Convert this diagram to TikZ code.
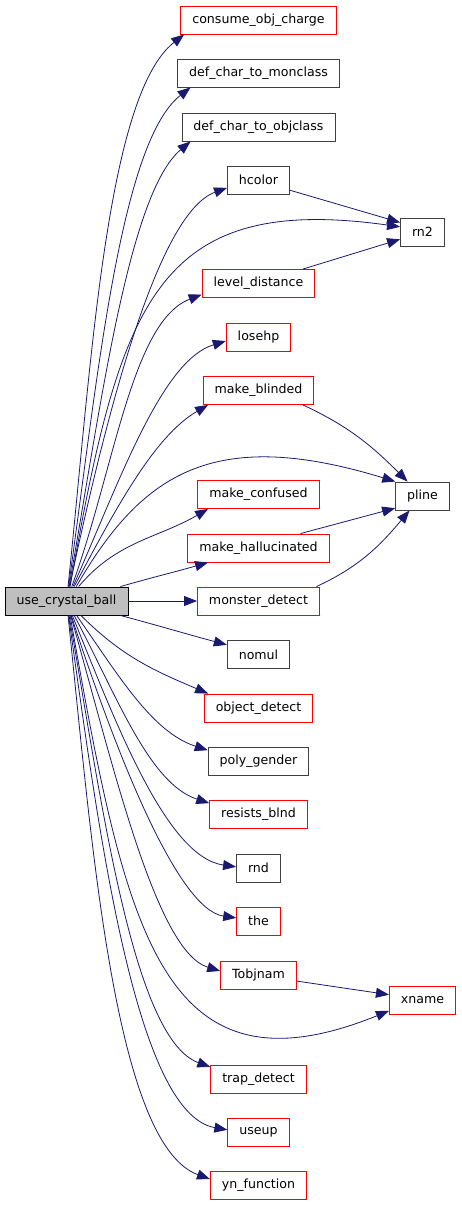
\documentclass[tikz,border=0pt]{standalone}
\usepackage{fontspec}
\setmainfont{DejaVu Sans}
\usepackage{xcolor}
\usepackage{tikz}
\usetikzlibrary{arrows.meta}

\definecolor{edgeblue}{RGB}{25,25,112}
\definecolor{boxred}{RGB}{255,0,0}
\definecolor{boxgray}{RGB}{64,64,64}
\definecolor{rootfill}{RGB}{191,191,191}

\begin{document}
\begin{tikzpicture}[
    x=1pt, y=1pt,
    fn/.style={rectangle, draw=boxgray, fill=white, line width=0.9pt, minimum height=28pt, inner xsep=11.5pt, inner ysep=0pt, font=\fontsize{12.6pt}{15pt}\selectfont},
    fnred/.style={fn, draw=boxred},
    root/.style={fn, draw=black, fill=rootfill},
    call/.style={draw=edgeblue, line width=0.8pt, -{Triangle[length=13pt,width=10pt]}},
    bend late/.style={in looseness=0.45},
]
\useasboundingbox (0,0) rectangle (461,-1205);

\node[root] (ucb) at (66.5,-601) {use\_crystal\_ball};

\node[fnred] (cons) at (258.5,-20) {consume\_obj\_charge};
\node[fn] (monc) at (258.5,-73) {def\_char\_to\_monclass};
\node[fn] (objc) at (258.5,-127) {def\_char\_to\_objclass};
\node[fn] (hcol) at (258.5,-180) {hcolor};
\node[fn] (rn2) at (422.5,-232) {rn2};
\node[fnred] (lvl) at (258.5,-283.5) {level\_distance};
\node[fnred] (lose) at (258.5,-337) {losehp};
\node[fnred] (blind) at (258.5,-390.5) {make\_blinded};
\node[fn] (pline) at (422.5,-496) {pline};
\node[fnred] (conf) at (258.5,-494.5) {make\_confused};
\node[fnred] (hall) at (258.5,-548) {make\_hallucinated};
\node[fnred] (mdet) at (258.5,-601) {monster\_detect};
\node[fn] (nomul) at (258.5,-654.5) {nomul};
\node[fnred] (odet) at (258.5,-708) {object\_detect};
\node[fn] (poly) at (258.5,-761) {poly\_gender};
\node[fnred] (resb) at (258.5,-814.5) {resists\_blnd};
\node[fn] (rnd) at (258.5,-868) {rnd};
\node[fnred] (the) at (258.5,-921) {the};
\node[fnred] (tobj) at (258.5,-975) {Tobjnam};
\node[fnred] (xname) at (422.5,-1000) {xname};
\node[fnred] (trap) at (258.5,-1079) {trap\_detect};
\node[fnred] (useup) at (258.5,-1132) {useup};
\node[fnred] (ynf) at (258.5,-1185) {yn\_function};

% calls going up
\draw[call] (ucb.84) to[out=84,in=218,bend late] (cons.191);
\draw[call] (ucb.82) to[out=82,in=218,bend late] (monc.192);
\draw[call] (ucb.80) to[out=80,in=220,bend late] (objc.192);
\draw[call] (ucb.78) to[out=78,in=200,bend late] (hcol.194);
\draw[call] (ucb.76) to[out=80,in=172,out looseness=1.5,in looseness=1.3] (rn2.167);
\draw[call] (ucb.70) to[out=70,in=201,in looseness=0.6] (lvl.191);
\draw[call] (ucb.66) to[out=66,in=197,in looseness=0.6] (lose.187);
\draw[call] (ucb.62) to[out=62,in=210,in looseness=0.7] (blind.196);
\draw[call] (ucb.56) to[out=60,in=163,in looseness=1.45] (pline.152);
\draw[call] (ucb.50) to[out=50,in=210] (conf.196);
\draw[call] (ucb.15) to[out=16,in=196] (hall.196);
\draw[call] (ucb) -- (mdet);

% calls going down
\draw[call] (ucb.-15) to[out=-15,in=165] (nomul.163);
\draw[call] (ucb.-45) to[out=-45,in=157] (odet.164);
\draw[call] (ucb.-55) to[out=-55,in=162,in looseness=0.8] (poly.168);
\draw[call] (ucb.-62) to[out=-62,in=162,in looseness=0.7] (resb.167);
\draw[call] (ucb.-68) to[out=-68,in=172,in looseness=0.6] (rnd.177);
\draw[call] (ucb.-72) to[out=-72,in=172,bend late] (the.172);
\draw[call] (ucb.-74) to[out=-74,in=163,bend late] (tobj.174);
\draw[call] (ucb.-76) to[out=-80,in=202,out looseness=1.6,in looseness=1.25] (xname.198);
\draw[call] (ucb.-80) to[out=-80,in=160,bend late] (trap.166);
\draw[call] (ucb.-82) to[out=-82,in=170,bend late] (useup.176);
\draw[call] (ucb.-84) to[out=-84,in=160,bend late] (ynf.173);

% second level
\draw[call] (hcol.-18) -- (rn2.157);
\draw[call] (lvl.18) -- (rn2.198);
\draw[call] (blind.-18) to[out=-25,in=135] (pline.136);
\draw[call] (hall.19) -- (pline.204);
\draw[call] (mdet.14) to[out=25,in=230] (pline.228);
\draw[call] (tobj.-9) -- (xname.171);

\end{tikzpicture}
\end{document}
